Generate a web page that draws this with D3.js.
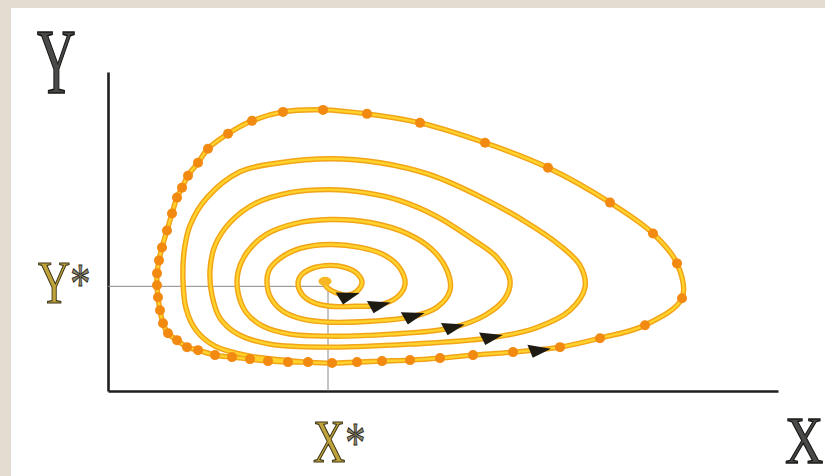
<!DOCTYPE html>
<html>
<head>
<meta charset="utf-8">
<script src="https://cdn.jsdelivr.net/npm/d3@7"></script>
<style>
  body { margin: 0; background: #e3dcd1; }
  svg { display: block; }
</style>
</head>
<body>
<svg id="chart" width="825" height="476"></svg>
<script>

// equilibrium point
var xStar = 22.0, yStar = 10.5

// trajectory spiralling out from the equilibrium
var spiral = [
  [21.7,11.0],[21.8,10.5],[22.7,9.9],
  [23.9,9.6],[25.0,10.1],[25.4,10.9],[24.9,11.8],[23.7,12.4],[22.2,12.6],[20.4,12.3],[19.3,11.6],
  [19.0,10.8],[19.4,9.7],[20.5,8.9],[22.2,8.5],[24.7,8.5],
  [27.0,8.6],[28.9,9.4],[29.7,10.7],[29.2,12.3],[27.7,13.6],[25.2,14.4],[22.2,14.7],[19.2,14.3],
  [17.2,13.3],[16.1,12.1],[15.9,10.8],[16.3,9.3],[17.5,8.0],[19.5,7.2],[22.2,6.9],[26.2,7.0],
  [30.2,7.4],[32.9,8.4],[34.2,10.1],[33.9,12.1],[32.4,14.2],[29.9,15.8],[26.2,16.9],[22.2,17.2],
  [18.7,16.8],[15.8,15.7],[13.9,13.9],[13.0,11.9],[13.0,9.9],[13.8,7.9],[15.5,6.5],[18.2,5.7],
  [22.2,5.5],[28.2,5.7],
  [34.2,6.3],[37.7,7.6],[39.7,9.3],[40.2,11.1],[38.9,13.4],[36.2,15.4],[32.9,17.5],[29.2,19.1],
  [25.7,19.9],[22.2,20.2],[18.2,19.9],[14.7,18.8],[12.2,16.9],[10.7,14.6],[10.2,12.1],[10.4,9.6],
  [11.2,7.3],[13.0,5.7],[16.2,4.7],[22.2,4.4],[30.2,4.7],
  [38.0,5.3],[42.7,6.3],[46.2,8.1],[47.7,10.4],[47.2,12.6],[45.2,14.6],[41.7,17.0],[37.2,19.5],
  [32.2,21.7],[27.2,22.9],[22.2,23.3],[17.2,22.9],[13.2,22.0],[9.9,19.4],[8.2,16.6],[7.6,13.9],
  [7.5,11.1],[7.8,8.3],[8.8,6.1],[10.7,4.5],[14.2,3.5],[17.7,3.1]
]

// outer cycle the trajectory settles on (the dotted loop)
var cycle = [
  [20.0,2.9],[22.4,2.8],[24.9,2.9],[27.4,3.0],[30.2,3.1],[33.2,3.3],[36.5,3.6],[40.5,3.9],
  [45.2,4.4],[49.2,5.3],[53.7,6.6],[57.4,9.3],[56.9,12.8],[54.5,15.8],[50.2,18.9],[44.0,22.4],
  [37.7,24.9],[31.2,26.9],[25.9,27.8],[21.5,28.2],[17.5,28.0],[14.4,27.1],[12.0,25.8],[10.0,24.3],
  [9.0,22.9],[8.0,21.6],[7.4,20.4],[6.9,19.4],[6.4,17.8],[5.9,16.1],[5.4,14.4],[5.1,13.1],
  [4.9,11.8],[4.9,10.6],[5.0,9.4],[5.2,8.1],[5.5,6.8],[6.0,5.8],[6.9,5.1],[7.9,4.4],
  [9.0,4.1],[10.7,3.6],[12.4,3.4],[14.2,3.2],[16.0,3.0],[18.0,2.9]
]

// direction arrows on the bottom of each turn
var arrowX = [23.9, 27.0, 30.4, 34.4, 38.2, 43.0]
var arrowY = [9.5, 8.6, 7.5, 6.4, 5.4, 4.1]
var arrowAngle = [-15, -12, -14, -12, -10, -6]

var axisNames = ['X', 'Y']
var starNames = ['X', 'Y']

var svg = d3.select('#chart')

svg.append('rect').attr('x', 11).attr('y', 8).attr('width', 814).attr('height', 468).attr('fill', '#ffffff')

var x = d3.scaleLinear().domain([0, 67]).range([108, 778])
var y = d3.scaleLinear().domain([0, 32]).range([391, 72])

// axes: just the two lines, no ticks
svg.append('g').attr('transform', 'translate(108,0)')
  .call(d3.axisLeft(y).tickValues([]).tickSizeOuter(0))
svg.append('g').attr('transform', 'translate(0,391)')
  .call(d3.axisBottom(x).tickValues([]).tickSizeOuter(0))
svg.selectAll('.domain').attr('stroke', '#1e1e1c').attr('stroke-width', 2.6)

// guide lines to the equilibrium
svg.append('line')
  .attr('x1', x(0)).attr('x2', x(xStar)).attr('y1', y(yStar)).attr('y2', y(yStar))
  .attr('stroke', '#8a8a86').attr('stroke-width', 1)
svg.append('line')
  .attr('x1', x(xStar)).attr('x2', x(xStar)).attr('y1', y(yStar)).attr('y2', y(0))
  .attr('stroke', '#8a8a86').attr('stroke-width', 1)

var line = d3.line()
  .x(d => x(d[0])).y(d => y(d[1]))
  .curve(d3.curveCatmullRom.alpha(0.5))

var path = spiral.concat(cycle).concat([cycle[0]])

svg.append('path').attr('d', line(path))
  .attr('fill', 'none').attr('stroke', '#f2a418').attr('stroke-width', 5.4)
  .attr('stroke-linejoin', 'round').attr('stroke-linecap', 'round')
svg.append('path').attr('d', line(path))
  .attr('fill', 'none').attr('stroke', '#ffd22c').attr('stroke-width', 2.4)
  .attr('stroke-linejoin', 'round')

// dots on the outer loop
svg.selectAll('circle.dot').data(cycle).enter()
  .append('circle').attr('class', 'dot')
  .attr('cx', d => x(d[0])).attr('cy', d => y(d[1]))
  .attr('r', 5).attr('fill', '#f28a12')

// equilibrium blob
svg.append('ellipse')
  .attr('cx', x(spiral[0][0])).attr('cy', y(spiral[0][1]))
  .attr('rx', 6.5).attr('ry', 4.5).attr('fill', '#f6b722')

// arrows
svg.selectAll('path.arrow').data(arrowX).enter()
  .append('path').attr('class', 'arrow')
  .attr('d', 'M13,0 L-10,-6.5 L-6,7 Z')
  .attr('transform', (d, i) => 'translate(' + x(d) + ',' + y(arrowY[i]) + ') rotate(' + arrowAngle[i] + ')')
  .attr('fill', '#1d1b12')

// axis letters
var serif = '"Liberation Serif", "DejaVu Serif", serif'

svg.append('text').attr('transform', 'translate(37,93) scale(0.57,1)')
  .attr('font-family', serif).attr('font-size', 94)
  .attr('fill', '#4a4a48').attr('stroke', '#161614').attr('stroke-width', 1.6)
  .text(axisNames[1])
svg.append('text').attr('transform', 'translate(785,463) scale(0.78,1)')
  .attr('font-family', serif).attr('font-size', 68)
  .attr('fill', '#4a4a48').attr('stroke', '#161614').attr('stroke-width', 1.4)
  .text(axisNames[0])

// starred letters
function starLabel(tx, ty, name) {
  var t = svg.append('text').attr('transform', 'translate(' + tx + ',' + ty + ') scale(0.72,1)')
    .attr('font-family', serif)
  t.append('tspan').attr('font-size', 62).attr('fill', '#bfa23a')
    .attr('stroke', '#3a3418').attr('stroke-width', 1.2).text(name)
  t.append('tspan').attr('font-size', 56).attr('fill', '#8f8a72')
    .attr('stroke', '#2a2818').attr('stroke-width', 1).text('*')
}
starLabel(38, 303, starNames[1])
starLabel(313, 462, starNames[0])

</script>
</body>
</html>
